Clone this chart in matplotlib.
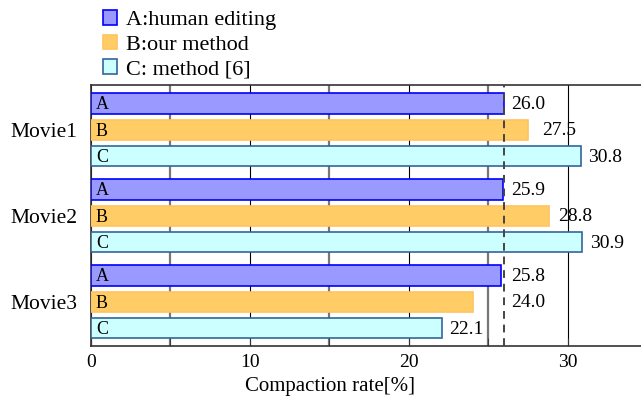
import numpy as np
import matplotlib.pyplot as plt
from matplotlib.ticker import MultipleLocator

plt.rcParams['font.family'] = ['Liberation Serif', 'DejaVu Serif']

# data
movies = ['Movie1', 'Movie2', 'Movie3']
series = ['A:human editing', 'B:our method', 'C: method [6]']
short = ['A', 'B', 'C']
vals_a = [26.0, 25.9, 25.8]
vals_b = [27.5, 28.8, 24.0]
vals_c = [30.8, 30.9, 22.1]
ref_line = 26.0
# x where each value label sits (per movie, per series)
label_x = [[26.4, 28.4, 31.3],
           [26.4, 29.4, 31.4],
           [26.4, 26.4, 22.5]]

fills = ['#9999ff', '#ffcc66', '#ccffff']
edges = ['#0000ff', '#ffc45e', '#336699']

fig = plt.figure(figsize=(6.41, 4.0), dpi=100)
ax = fig.add_axes([0.142, 0.135, 0.858, 0.6525])

step = 0.308
height = 0.233
centers = np.arange(len(movies))
all_vals = [vals_a, vals_b, vals_c]

for k, vals in enumerate(all_vals):
    ys = centers + (k - 1) * step
    ax.barh(ys, vals, height=height, color=fills[k], edgecolor=edges[k],
            linewidth=1.2, label=series[k], zorder=3)
    for i, (y, v) in enumerate(zip(ys, vals)):
        ax.text(0.3, y + 0.015, short[k], ha='left', va='center', fontsize=13, zorder=4)
        ax.text(label_x[i][k], y + 0.01, f'{v:.1f}', ha='left', va='center',
                fontsize=14, zorder=4)

ax.axvline(ref_line, color='#444444', linestyle=(0, (4, 3)), linewidth=1.4, zorder=5)

ax.set_xlim(0, 34.6)
ax.set_ylim(2.512, -0.523)
ax.xaxis.set_major_locator(MultipleLocator(10))
ax.xaxis.set_minor_locator(MultipleLocator(5))
ax.grid(True, axis='x', which='major', color='black', linewidth=0.8, zorder=0)
ax.grid(True, axis='x', which='minor', color='#777777', linewidth=1.6, zorder=0)
ax.tick_params(axis='x', which='both', direction='in', length=6, labelsize=14,
               color='#333333', pad=6)
ax.set_yticks(centers)
ax.set_yticklabels(movies, fontsize=15.5)
ax.tick_params(axis='y', length=0, pad=10)
ax.spines['right'].set_visible(False)
for s in ['top', 'bottom', 'left']:
    ax.spines[s].set_color('#333333')
    ax.spines[s].set_linewidth(1.2)
ax.set_xlabel('Compaction rate[%]', fontsize=15)
ax.xaxis.set_label_coords(0.435, -0.12)

fig.legend(loc='upper left', bbox_to_anchor=(0.161, 0.975), frameon=False,
           fontsize=16, handlelength=0.63, handleheight=0.63, handletextpad=0.4,
           labelspacing=0.2, borderaxespad=0, borderpad=0)

fig.savefig('out.png', dpi=100)
